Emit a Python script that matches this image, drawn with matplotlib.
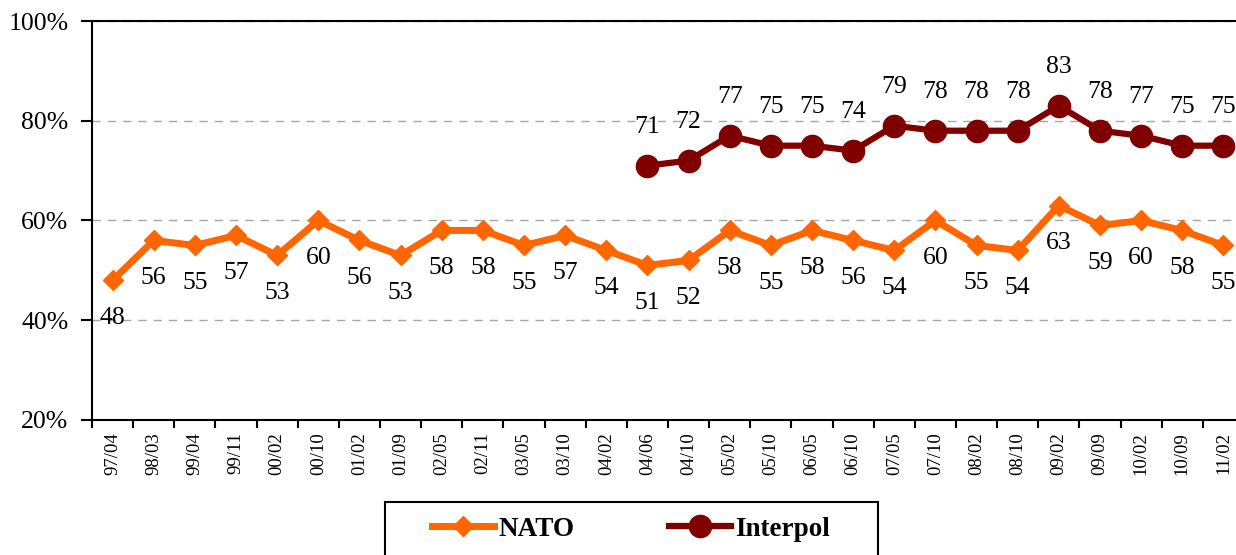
from matplotlib import pyplot as plt
from matplotlib.patches import Rectangle
import numpy as np

# survey waves
waves = ["97/04", "98/03", "99/04", "99/11", "00/02", "00/10", "01/02", "01/09",
         "02/05", "02/11", "03/05", "03/10", "04/02", "04/06", "04/10", "05/02",
         "05/10", "06/05", "06/10", "07/05", "07/10", "08/02", "08/10", "09/02",
         "09/09", "10/02", "10/09", "11/02"]

nato = [48, 56, 55, 57, 53, 60, 56, 53, 58, 58, 55, 57, 54, 51, 52, 58,
        55, 58, 56, 54, 60, 55, 54, 63, 59, 60, 58, 55]

# Interpol only asked from 04/06 onwards
interpol_waves = waves[13:]
interpol = [71, 72, 77, 75, 75, 74, 79, 78, 78, 78, 83, 78, 77, 75, 75]

plt.rcParams['font.family'] = ['Liberation Serif', 'DejaVu Serif']

fig = plt.figure(figsize=(12.36, 5.55), dpi=100)
ax = fig.add_axes([92 / 1236, 135 / 555, 1152 / 1236, 399 / 555])

x = np.arange(len(waves))
xi = np.array([waves.index(w) for w in interpol_waves])

ax.plot(x, nato, color="#FF6600", lw=5, marker="D", ms=10.5,
        mec="#FF6600", label="NATO", zorder=3)
ax.plot(xi, interpol, color="#800000", lw=4.5, marker="o", ms=16,
        mec="#800000", label="Interpol", zorder=3)

# value labels: NATO below the line, Interpol above
for xx, v in zip(x, nato):
    ax.annotate(str(v), (xx, v), xytext=(0, -27), textcoords="offset points",
                ha="center", va="center", fontsize=18.5)
for xx, v in zip(xi, interpol):
    ax.annotate(str(v), (xx, v), xytext=(0, 28), textcoords="offset points",
                ha="center", va="center", fontsize=18.5)

ax.set_xlim(-0.5, len(waves) - 0.5)
ax.set_ylim(20, 100)
ax.set_yticks([20, 40, 60, 80, 100])
ax.set_yticklabels([f"{t}%" for t in [20, 40, 60, 80, 100]], fontsize=18.5)
ax.tick_params(axis="y", direction="out", length=8, width=1.5, pad=9)

# labels at the wave centres, tick marks between waves
ax.set_xticks(x)
ax.set_xticklabels(waves, rotation=90, fontsize=13.5)
ax.tick_params(axis="x", which="major", length=0, pad=9)
ax.set_xticks(np.arange(len(waves) + 1) - 0.5, minor=True)
ax.tick_params(axis="x", which="minor", direction="out", length=6, width=1.5)

ax.grid(axis="y", color="#a6a6a6", ls=(0, (6, 5)), lw=1)
ax.set_axisbelow(True)
for s in ax.spines.values():
    s.set_linewidth(1.5)
    s.set_color("black")

# legend box runs off the bottom of the picture
fig.patches.append(Rectangle((385 / 1236, -0.02), 493 / 1236, 53 / 555 + 0.02,
                             transform=fig.transFigure, fill=False,
                             edgecolor="black", lw=1.5))
fig.legend(loc="center", bbox_to_anchor=(631 / 1236, 1 - 529 / 555), ncol=2,
           frameon=False, handlelength=2.3, handletextpad=0.15,
           columnspacing=3.5, prop={"weight": "bold", "size": 19.5})

fig.savefig("out.png", dpi=100)
